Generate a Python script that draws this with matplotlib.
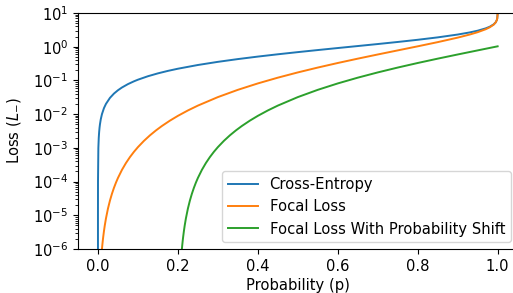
# focal loss curves, log scale

import matplotlib
matplotlib.use("Agg")
import matplotlib.pyplot as plt

# cross-entropy
ce_p = [1e-7, 1e-6, 1e-5, 1e-4, 0.001, 0.002, 0.003, 0.004, 0.005, 0.007, 0.01, 0.015,
	0.02, 0.03, 0.04, 0.05, 0.06, 0.075, 0.09, 0.1, 0.125, 0.15, 0.175, 0.2, 0.25, 0.3,
	0.35, 0.4, 0.45, 0.5, 0.55, 0.6, 0.65, 0.7, 0.75, 0.8, 0.85, 0.9, 0.93, 0.95, 0.97,
	0.98, 0.99, 0.995, 0.998, 0.999, 0.9999, 0.99999]
ce_loss = [1e-7, 1e-6, 1e-5, 1e-4, 0.0010005, 0.002002, 0.0030045, 0.004008, 0.005013,
	0.0070246, 0.01005, 0.015114, 0.0202, 0.03046, 0.040822, 0.05129, 0.061875, 0.07796,
	0.094311, 0.1054, 0.133531, 0.1625, 0.192372, 0.2231, 0.2877, 0.3567, 0.4308, 0.5108,
	0.5978, 0.6931, 0.7985, 0.9163, 1.0498, 1.2040, 1.3863, 1.6094, 1.8971, 2.3026,
	2.6593, 2.9957, 3.5066, 3.9120, 4.6052, 5.2983, 6.2146, 6.9078, 9.2103, 11.513]

# focal loss
fl_p = [0.005, 0.01, 0.011, 0.012, 0.013, 0.015, 0.017, 0.02, 0.025, 0.03, 0.035, 0.04,
	0.045, 0.05, 0.06, 0.07, 0.08, 0.09, 0.1, 0.115, 0.13, 0.145, 0.16, 0.18, 0.2,
	0.225, 0.25, 0.3, 0.35, 0.4, 0.45, 0.5, 0.55, 0.6, 0.65, 0.7, 0.75, 0.8, 0.85,
	0.9, 0.93, 0.95, 0.97, 0.98, 0.99, 0.995, 0.998, 0.999, 0.9999, 0.99999]
fl_loss = [1.25e-7, 1.005e-6, 1.3384e-6, 1.739e-6, 2.2114e-6, 3.40e-6, 4.955e-6, 8.08e-6,
	1.5824e-5, 2.74e-5, 4.3643e-5, 6.53e-5, 9.324e-5, 1.282e-4, 2.2275e-4, 3.556e-4,
	5.3364e-4, 7.6392e-4, 1.054e-3, 1.6157e-3, 2.353e-3, 3.2936e-3, 4.463e-3, 6.4298e-3,
	8.926e-3, 1.2904e-2, 0.01798, 0.0321, 0.05277, 0.08173, 0.12106, 0.17329, 0.24155,
	0.32986, 0.44355, 0.58995, 0.77979, 1.0300, 1.3707, 1.8651, 2.3000, 2.7036, 3.2993,
	3.7571, 4.5135, 5.2455, 6.1898, 6.8940, 9.2085, 11.513]

# focal loss with probability shift
fls_p = [0.205, 0.21, 0.211, 0.212, 0.213, 0.215, 0.217, 0.22, 0.225, 0.23, 0.235, 0.24,
	0.245, 0.25, 0.26, 0.27, 0.28, 0.29, 0.3, 0.315, 0.33, 0.345, 0.36, 0.38, 0.4,
	0.425, 0.45, 0.5, 0.55, 0.6, 0.65, 0.7, 0.75, 0.8, 0.85, 0.9, 0.95, 1.0]
fls_loss = [1.25e-7, 1.005e-6, 1.3384e-6, 1.739e-6, 2.2114e-6, 3.40e-6, 4.955e-6, 8.08e-6,
	1.5824e-5, 2.74e-5, 4.3643e-5, 6.53e-5, 9.324e-5, 1.282e-4, 2.2275e-4, 3.556e-4,
	5.3364e-4, 7.6392e-4, 1.054e-3, 1.6157e-3, 2.353e-3, 3.2936e-3, 4.463e-3, 6.4298e-3,
	8.926e-3, 1.2904e-2, 0.01798, 0.0321, 0.05277, 0.08173, 0.12106, 0.17329, 0.24155,
	0.32986, 0.44355, 0.58995, 0.77979, 1.0300]

labels = ["Cross-Entropy", "Focal Loss", "Focal Loss With Probability Shift"]

plt.rcParams["font.size"] = 10.6

fig = plt.figure(figsize=(5.13, 2.93), dpi=100)
ax = fig.add_axes([0.152, 0.150, 0.857, 0.8055])

ax.plot(ce_p, ce_loss, label=labels[0], lw=1.4)
ax.plot(fl_p, fl_loss, label=labels[1], lw=1.4)
ax.plot(fls_p, fls_loss, label=labels[2], lw=1.4)

ax.set_yscale("log")
ax.set_ylim(1e-6, 1e1)
ax.set_xlim(-0.05, 1.05)
ax.set_xticks([0.0, 0.2, 0.4, 0.6, 0.8, 1.0])
ax.set_xlabel("Probability (p)", labelpad=3)
ax.set_ylabel(r"Loss ($L_{-}$)", labelpad=7)
ax.spines["right"].set_visible(False)
ax.legend(loc="lower right", borderaxespad=0.45)

fig.savefig("out.png", dpi=100)
